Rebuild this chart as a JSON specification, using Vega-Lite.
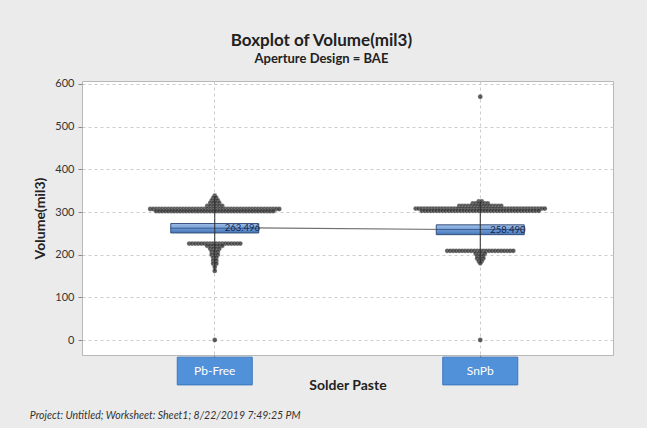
{
  "$schema": "https://vega.github.io/schema/vega-lite/v6.json",
  "background": "#ebebeb",
  "padding": {"left": 29, "top": 32, "right": 37, "bottom": 14},
  "title": {
    "text": "Boxplot of Volume(mil3)",
    "subtitle": "Aperture Design = BAE",
    "anchor": "middle",
    "frame": "bounds",
    "font": "Lato",
    "fontSize": 17,
    "fontWeight": "bold",
    "color": "#222222",
    "subtitleFont": "Lato",
    "subtitleFontSize": 13,
    "subtitleFontWeight": "bold",
    "subtitleColor": "#222222",
    "subtitlePadding": 3,
    "offset": 10
  },
  "datasets": {
    "box": [
      {"g": "Pb-Free", "q1": 251, "med": 262, "q3": 273, "mean": 263.496, "lo": 162, "hi": 338},
      {"g": "SnPb", "q1": 247, "med": 259, "q3": 270, "mean": 258.49, "lo": 180, "hi": 325}
    ],
    "pts": [
      {"g":"Pb-Free","v":338},
      {"g":"Pb-Free","v":333},{"g":"Pb-Free","v":333},
      {"g":"Pb-Free","v":327},{"g":"Pb-Free","v":327},{"g":"Pb-Free","v":327},
      {"g":"Pb-Free","v":321},{"g":"Pb-Free","v":321},{"g":"Pb-Free","v":321},{"g":"Pb-Free","v":321},
      {"g":"Pb-Free","v":314},{"g":"Pb-Free","v":314},{"g":"Pb-Free","v":314},{"g":"Pb-Free","v":314},{"g":"Pb-Free","v":314},{"g":"Pb-Free","v":314},
      {"g":"Pb-Free","v":307},{"g":"Pb-Free","v":307},{"g":"Pb-Free","v":307},{"g":"Pb-Free","v":307},{"g":"Pb-Free","v":307},{"g":"Pb-Free","v":307},{"g":"Pb-Free","v":307},{"g":"Pb-Free","v":307},{"g":"Pb-Free","v":307},{"g":"Pb-Free","v":307},{"g":"Pb-Free","v":307},
      {"g":"Pb-Free","v":307},{"g":"Pb-Free","v":307},{"g":"Pb-Free","v":307},{"g":"Pb-Free","v":307},{"g":"Pb-Free","v":307},{"g":"Pb-Free","v":307},{"g":"Pb-Free","v":307},{"g":"Pb-Free","v":307},{"g":"Pb-Free","v":307},{"g":"Pb-Free","v":307},{"g":"Pb-Free","v":307},
      {"g":"Pb-Free","v":307},{"g":"Pb-Free","v":307},{"g":"Pb-Free","v":307},{"g":"Pb-Free","v":307},{"g":"Pb-Free","v":307},{"g":"Pb-Free","v":307},{"g":"Pb-Free","v":307},{"g":"Pb-Free","v":307},{"g":"Pb-Free","v":307},{"g":"Pb-Free","v":307},{"g":"Pb-Free","v":307},
      {"g":"Pb-Free","v":307},{"g":"Pb-Free","v":307},{"g":"Pb-Free","v":307},{"g":"Pb-Free","v":307},{"g":"Pb-Free","v":307},{"g":"Pb-Free","v":307},{"g":"Pb-Free","v":307},{"g":"Pb-Free","v":307},{"g":"Pb-Free","v":307},{"g":"Pb-Free","v":307},{"g":"Pb-Free","v":307},
      {"g":"Pb-Free","v":302},{"g":"Pb-Free","v":302},{"g":"Pb-Free","v":302},{"g":"Pb-Free","v":302},{"g":"Pb-Free","v":302},{"g":"Pb-Free","v":302},{"g":"Pb-Free","v":302},{"g":"Pb-Free","v":302},{"g":"Pb-Free","v":302},{"g":"Pb-Free","v":302},
      {"g":"Pb-Free","v":302},{"g":"Pb-Free","v":302},{"g":"Pb-Free","v":302},{"g":"Pb-Free","v":302},{"g":"Pb-Free","v":302},{"g":"Pb-Free","v":302},{"g":"Pb-Free","v":302},{"g":"Pb-Free","v":302},{"g":"Pb-Free","v":302},{"g":"Pb-Free","v":302},
      {"g":"Pb-Free","v":302},{"g":"Pb-Free","v":302},{"g":"Pb-Free","v":302},{"g":"Pb-Free","v":302},{"g":"Pb-Free","v":302},{"g":"Pb-Free","v":302},{"g":"Pb-Free","v":302},{"g":"Pb-Free","v":302},{"g":"Pb-Free","v":302},{"g":"Pb-Free","v":302},
      {"g":"Pb-Free","v":302},{"g":"Pb-Free","v":302},{"g":"Pb-Free","v":302},{"g":"Pb-Free","v":302},{"g":"Pb-Free","v":302},{"g":"Pb-Free","v":302},{"g":"Pb-Free","v":302},{"g":"Pb-Free","v":302},{"g":"Pb-Free","v":302},{"g":"Pb-Free","v":302},
      {"g":"Pb-Free","v":226},{"g":"Pb-Free","v":226},{"g":"Pb-Free","v":226},{"g":"Pb-Free","v":226},{"g":"Pb-Free","v":226},{"g":"Pb-Free","v":226},{"g":"Pb-Free","v":226},{"g":"Pb-Free","v":226},{"g":"Pb-Free","v":226},
      {"g":"Pb-Free","v":226},{"g":"Pb-Free","v":226},{"g":"Pb-Free","v":226},{"g":"Pb-Free","v":226},{"g":"Pb-Free","v":226},{"g":"Pb-Free","v":226},{"g":"Pb-Free","v":226},{"g":"Pb-Free","v":226},{"g":"Pb-Free","v":226},
      {"g":"Pb-Free","v":221},{"g":"Pb-Free","v":221},{"g":"Pb-Free","v":221},{"g":"Pb-Free","v":221},{"g":"Pb-Free","v":221},{"g":"Pb-Free","v":221},
      {"g":"Pb-Free","v":214},{"g":"Pb-Free","v":214},{"g":"Pb-Free","v":214},{"g":"Pb-Free","v":214},
      {"g":"Pb-Free","v":207},{"g":"Pb-Free","v":207},{"g":"Pb-Free","v":207},
      {"g":"Pb-Free","v":200},{"g":"Pb-Free","v":200},{"g":"Pb-Free","v":200},
      {"g":"Pb-Free","v":193},{"g":"Pb-Free","v":193},
      {"g":"Pb-Free","v":186},{"g":"Pb-Free","v":186},
      {"g":"Pb-Free","v":179},{"g":"Pb-Free","v":179},
      {"g":"Pb-Free","v":171},
      {"g":"Pb-Free","v":162},
      {"g":"Pb-Free","v":0},
      {"g":"SnPb","v":570},
      {"g":"SnPb","v":325},{"g":"SnPb","v":325},
      {"g":"SnPb","v":320},{"g":"SnPb","v":320},{"g":"SnPb","v":320},{"g":"SnPb","v":320},{"g":"SnPb","v":320},{"g":"SnPb","v":320},
      {"g":"SnPb","v":314},{"g":"SnPb","v":314},{"g":"SnPb","v":314},{"g":"SnPb","v":314},{"g":"SnPb","v":314},{"g":"SnPb","v":314},{"g":"SnPb","v":314},{"g":"SnPb","v":314},
      {"g":"SnPb","v":314},{"g":"SnPb","v":314},{"g":"SnPb","v":314},{"g":"SnPb","v":314},{"g":"SnPb","v":314},{"g":"SnPb","v":314},{"g":"SnPb","v":314},
      {"g":"SnPb","v":308},{"g":"SnPb","v":308},{"g":"SnPb","v":308},{"g":"SnPb","v":308},{"g":"SnPb","v":308},{"g":"SnPb","v":308},{"g":"SnPb","v":308},{"g":"SnPb","v":308},{"g":"SnPb","v":308},{"g":"SnPb","v":308},{"g":"SnPb","v":308},
      {"g":"SnPb","v":308},{"g":"SnPb","v":308},{"g":"SnPb","v":308},{"g":"SnPb","v":308},{"g":"SnPb","v":308},{"g":"SnPb","v":308},{"g":"SnPb","v":308},{"g":"SnPb","v":308},{"g":"SnPb","v":308},{"g":"SnPb","v":308},{"g":"SnPb","v":308},
      {"g":"SnPb","v":308},{"g":"SnPb","v":308},{"g":"SnPb","v":308},{"g":"SnPb","v":308},{"g":"SnPb","v":308},{"g":"SnPb","v":308},{"g":"SnPb","v":308},{"g":"SnPb","v":308},{"g":"SnPb","v":308},{"g":"SnPb","v":308},{"g":"SnPb","v":308},
      {"g":"SnPb","v":308},{"g":"SnPb","v":308},{"g":"SnPb","v":308},{"g":"SnPb","v":308},{"g":"SnPb","v":308},{"g":"SnPb","v":308},{"g":"SnPb","v":308},{"g":"SnPb","v":308},{"g":"SnPb","v":308},{"g":"SnPb","v":308},{"g":"SnPb","v":308},
      {"g":"SnPb","v":303},{"g":"SnPb","v":303},{"g":"SnPb","v":303},{"g":"SnPb","v":303},{"g":"SnPb","v":303},{"g":"SnPb","v":303},{"g":"SnPb","v":303},{"g":"SnPb","v":303},{"g":"SnPb","v":303},{"g":"SnPb","v":303},
      {"g":"SnPb","v":303},{"g":"SnPb","v":303},{"g":"SnPb","v":303},{"g":"SnPb","v":303},{"g":"SnPb","v":303},{"g":"SnPb","v":303},{"g":"SnPb","v":303},{"g":"SnPb","v":303},{"g":"SnPb","v":303},{"g":"SnPb","v":303},
      {"g":"SnPb","v":303},{"g":"SnPb","v":303},{"g":"SnPb","v":303},{"g":"SnPb","v":303},{"g":"SnPb","v":303},{"g":"SnPb","v":303},{"g":"SnPb","v":303},{"g":"SnPb","v":303},{"g":"SnPb","v":303},{"g":"SnPb","v":303},
      {"g":"SnPb","v":303},{"g":"SnPb","v":303},{"g":"SnPb","v":303},{"g":"SnPb","v":303},{"g":"SnPb","v":303},{"g":"SnPb","v":303},{"g":"SnPb","v":303},{"g":"SnPb","v":303},{"g":"SnPb","v":303},{"g":"SnPb","v":303},
      {"g":"SnPb","v":209},{"g":"SnPb","v":209},{"g":"SnPb","v":209},{"g":"SnPb","v":209},{"g":"SnPb","v":209},{"g":"SnPb","v":209},{"g":"SnPb","v":209},{"g":"SnPb","v":209},{"g":"SnPb","v":209},{"g":"SnPb","v":209},
      {"g":"SnPb","v":209},{"g":"SnPb","v":209},{"g":"SnPb","v":209},{"g":"SnPb","v":209},{"g":"SnPb","v":209},{"g":"SnPb","v":209},{"g":"SnPb","v":209},{"g":"SnPb","v":209},{"g":"SnPb","v":209},{"g":"SnPb","v":209},
      {"g":"SnPb","v":209},{"g":"SnPb","v":209},{"g":"SnPb","v":209},
      {"g":"SnPb","v":203},{"g":"SnPb","v":203},{"g":"SnPb","v":203},{"g":"SnPb","v":203},
      {"g":"SnPb","v":197},{"g":"SnPb","v":197},{"g":"SnPb","v":197},
      {"g":"SnPb","v":191},{"g":"SnPb","v":191},{"g":"SnPb","v":191},
      {"g":"SnPb","v":185},{"g":"SnPb","v":185},
      {"g":"SnPb","v":180},
      {"g":"SnPb","v":0}
    ]
  },
  "vconcat": [
    {
      "width": 531,
      "height": 274,
      "title": {
        "text": "Project: Untitled; Worksheet: Sheet1; 8/22/2019 7:49:25 PM",
        "orient": "bottom",
        "anchor": "start",
        "frame": "bounds",
        "font": "Lato",
        "fontSize": 10.5,
        "fontStyle": "italic",
        "fontWeight": "normal",
        "color": "#333333",
        "offset": 18,
        "dx": -4
      },
      "encoding": {
        "x": {
          "field": "g",
          "type": "nominal",
          "title": "Solder Paste",
          "scale": {"type": "band", "paddingInner": 0, "paddingOuter": 0},
          "axis": {"labels": false, "domain": false, "grid": true, "ticks": true, "tickSize": 4, "bandPosition": 0.5, "titlePadding": 19}
        }
      },
      "layer": [
        {
          "data": {"name": "pts"},
          "transform": [
            {"window": [{"op": "count", "as": "one"}], "frame": [0, 0]},
            {"stack": "one", "groupby": ["g", "v"], "offset": "center", "as": ["s0", "s1"]}
          ],
          "mark": {"type": "circle", "size": 24, "color": "#333333", "opacity": 0.8, "stroke": "#ffffff", "strokeWidth": 0.4, "strokeOpacity": 0.6},
          "encoding": {
            "xOffset": {"field": "s0", "type": "quantitative", "scale": {"domain": [-22.75, 65.75]}},
            "y": {
              "field": "v", "type": "quantitative", "title": "Volume(mil3)",
              "scale": {"domain": [-35, 607], "nice": false, "zero": false},
              "axis": {
                "values": [0, 50, 100, 150, 200, 250, 300, 350, 400, 450, 500, 550, 600],
                "labelExpr": "datum.value % 100 === 0 ? datum.label : ''",
                "tickOpacity": {"condition": {"test": "datum.value % 100 !== 0", "value": 0}, "value": 1},
                "grid": true, "domain": false, "tickSize": 4, "labelPadding": 4, "titlePadding": 7
              }
            }
          }
        },
        {
          "data": {"name": "box"},
          "mark": {"type": "line", "color": "#6f6f6f", "strokeWidth": 1.2},
          "encoding": {
            "y": {"field": "mean", "type": "quantitative", "title": "Volume(mil3)", "scale": {"domain": [-35, 607], "nice": false, "zero": false}}
          }
        },
        {
          "data": {"name": "box"},
          "mark": {
            "type": "bar",
            "width": 88,
            "stroke": "#34507a",
            "strokeWidth": 1,
            "color": {"gradient": "linear", "x1": 0, "y1": 0, "x2": 0, "y2": 1, "stops": [{"offset": 0, "color": "#a6c3ea"}, {"offset": 0.5, "color": "#6f9bd6"}, {"offset": 1, "color": "#4676b9"}]}
          },
          "encoding": {
            "y": {"field": "q1", "type": "quantitative", "title": "Volume(mil3)", "scale": {"domain": [-35, 607], "nice": false, "zero": false}},
            "y2": {"field": "q3"}
          }
        },
        {
          "data": {"name": "box"},
          "mark": {"type": "tick", "size": 88, "thickness": 1, "color": "#2a4470"},
          "encoding": {
            "y": {"field": "med", "type": "quantitative", "title": "Volume(mil3)", "scale": {"domain": [-35, 607], "nice": false, "zero": false}}
          }
        },
        {
          "data": {"name": "box"},
          "mark": {"type": "rule", "color": "#2a2a2a", "strokeWidth": 1},
          "encoding": {
            "y": {"field": "lo", "type": "quantitative", "title": "Volume(mil3)", "scale": {"domain": [-35, 607], "nice": false, "zero": false}},
            "y2": {"field": "hi"}
          }
        },
        {
          "data": {"name": "box"},
          "mark": {"type": "text", "align": "left", "baseline": "middle", "dx": 10, "font": "Lato", "fontSize": 9.5, "color": "#14244a"},
          "encoding": {
            "y": {"field": "mean", "type": "quantitative", "title": "Volume(mil3)", "scale": {"domain": [-35, 607], "nice": false, "zero": false}},
            "text": {"field": "mean", "type": "quantitative", "format": ".3f"}
          }
        },
        {
          "data": {"name": "box"},
          "mark": {"type": "bar", "width": 75, "color": "#5191d9", "stroke": "#3b77bd", "strokeWidth": 1},
          "encoding": {
            "y": {"datum": -40, "type": "quantitative", "title": "Volume(mil3)", "scale": {"domain": [-35, 607], "nice": false, "zero": false}},
            "y2": {"datum": -105}
          }
        },
        {
          "data": {"name": "box"},
          "mark": {"type": "text", "baseline": "middle", "font": "Lato", "fontSize": 12, "color": "#ffffff"},
          "encoding": {
            "y": {"datum": -72.5, "type": "quantitative", "title": "Volume(mil3)", "scale": {"domain": [-35, 607], "nice": false, "zero": false}},
            "text": {"field": "g", "type": "nominal"}
          }
        }
      ]
    }
  ],
  "config": {
    "font": "Lato",
    "view": {"fill": "#ffffff", "stroke": "#b8b8b8"},
    "axis": {
      "gridColor": "#cccccc",
      "gridDash": [3, 3],
      "tickColor": "#8a8a8a",
      "labelFont": "Lato",
      "labelFontSize": 11,
      "labelColor": "#333333",
      "titleFont": "Lato",
      "titleFontSize": 14,
      "titleFontWeight": "bold",
      "titleColor": "#222222"
    }
  }
}
